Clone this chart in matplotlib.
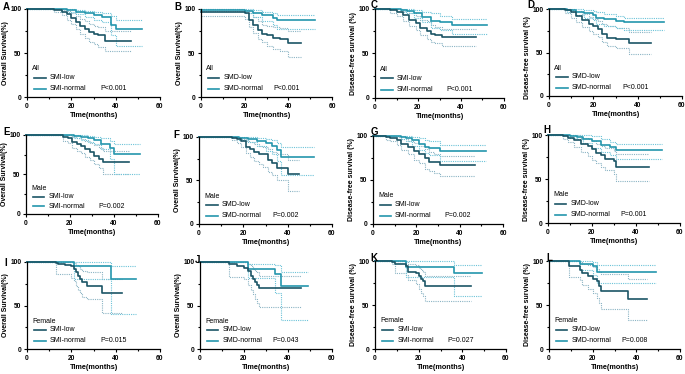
import matplotlib
matplotlib.use("Agg")
import matplotlib.pyplot as plt
from matplotlib.ticker import MultipleLocator

plt.rcParams['font.family'] = ['Liberation Sans', 'DejaVu Sans']

# ---- data: step times (months) and survival (%) with 95% CI ----
# A  OS, SMI, all
A_low_t = [0, 12, 16, 18, 20, 22, 24, 26, 28, 30, 32, 35, 47]
A_low_s = [100, 99, 97, 94, 90, 85, 81, 77, 74, 72, 70, 64, 64]
A_low_lo = [100, 97, 93, 88, 83, 77, 72, 67, 63, 60, 57, 52, 52]
A_low_hi = [100, 100, 99, 98, 96, 92, 89, 86, 83, 81, 79, 75, 75]
A_norm_t = [0, 18, 22, 26, 30, 34, 38, 40, 52]
A_norm_s = [100, 99, 97, 95, 93, 91, 82, 77, 77]
A_norm_lo = [100, 97, 94, 91, 88, 85, 70, 58, 58]
A_norm_hi = [100, 100, 99, 98, 97, 96, 92, 88, 88]

# B  OS, SMD, all
B_low_t = [0, 20, 22, 24, 26, 28, 30, 33, 36, 40, 46]
B_low_s = [97, 95, 88, 82, 76, 72, 70, 67, 66, 61, 61]
B_low_lo = [92, 89, 80, 73, 66, 62, 58, 54, 52, 45, 45]
B_low_hi = [100, 99, 95, 91, 86, 82, 81, 79, 78, 75, 75]
B_norm_t = [0, 20, 24, 28, 33, 35, 52]
B_norm_s = [99, 98, 96, 93, 90, 87, 87]
B_norm_lo = [98, 95, 91, 86, 82, 77, 77]
B_norm_hi = [100, 100, 99, 97, 95, 93, 93]

# C  DFS, SMI, all
C_low_t = [0, 7, 10, 13, 16, 19, 21, 24, 26, 28, 31, 47]
C_low_s = [100, 99, 97, 93, 88, 84, 79, 75, 72, 71, 68, 68]
C_low_lo = [100, 95, 92, 87, 81, 76, 71, 66, 63, 62, 58, 58]
C_low_hi = [100, 100, 100, 98, 95, 92, 88, 86, 82, 80, 78, 78]
C_norm_t = [0, 12, 15, 18, 22, 26, 30, 36, 52]
C_norm_s = [100, 99, 98, 95, 91, 87, 85, 82, 82]
C_norm_lo = [100, 97, 95, 90, 85, 79, 76, 72, 72]
C_norm_hi = [100, 100, 100, 99, 97, 95, 92, 89, 89]

# D  DFS, SMD, all
D_low_t = [0, 7, 10, 12, 15, 18, 20, 22, 24, 26, 30, 36, 46]
D_low_s = [100, 99, 96, 92, 87, 83, 80, 77, 71, 67, 65, 61, 61]
D_low_lo = [100, 95, 90, 85, 79, 75, 71, 68, 62, 58, 55, 48, 48]
D_low_hi = [100, 100, 99, 98, 94, 91, 88, 86, 83, 80, 78, 73, 73]
D_norm_t = [0, 8, 12, 16, 20, 21, 25, 30, 34, 52]
D_norm_s = [100, 99, 97, 95, 93, 90, 88, 86, 85, 85]
D_norm_lo = [100, 97, 93, 90, 87, 83, 80, 78, 76, 76]
D_norm_hi = [100, 100, 100, 99, 98, 96, 94, 92, 90, 90]

# E  OS, SMI, male
E_low_t = [0, 17, 19, 21, 23, 25, 27, 29, 31, 33, 35, 47]
E_low_s = [100, 98, 96, 91, 88, 86, 82, 78, 74, 70, 66, 66]
E_low_lo = [100, 93, 90, 84, 80, 77, 72, 68, 63, 58, 50, 50]
E_low_hi = [100, 100, 100, 98, 96, 95, 92, 90, 87, 84, 80, 80]
E_norm_t = [0, 22, 25, 28, 31, 34, 38, 40, 52]
E_norm_s = [100, 99, 98, 96, 94, 89, 83, 76, 76]
E_norm_lo = [100, 96, 94, 91, 88, 82, 70, 51, 51]
E_norm_hi = [100, 100, 100, 99, 98, 96, 92, 88, 88]

# F  OS, SMD, male
F_low_t = [0, 15, 17, 19, 21, 23, 25, 27, 29, 31, 33, 35, 40, 45]
F_low_s = [100, 99, 98, 95, 89, 86, 83, 81, 80, 74, 70, 64, 57, 57]
F_low_lo = [100, 96, 93, 89, 82, 77, 72, 69, 66, 60, 56, 50, 38, 38]
F_low_hi = [100, 100, 100, 98, 95, 94, 92, 90, 89, 86, 83, 80, 73, 73]
F_norm_t = [0, 18, 22, 26, 30, 33, 35, 37, 52]
F_norm_s = [100, 99, 98, 95, 93, 90, 85, 77, 77]
F_norm_lo = [100, 96, 94, 90, 84, 80, 72, 56, 56]
F_norm_hi = [100, 100, 100, 99, 98, 96, 93, 89, 89]

# G  DFS, SMI, male
G_low_t = [0, 6, 8, 11, 13, 16, 19, 21, 24, 26, 28, 31, 47]
G_low_s = [100, 99, 98, 95, 91, 87, 83, 79, 75, 71, 70, 67, 67]
G_low_lo = [100, 96, 94, 90, 84, 79, 73, 69, 63, 60, 58, 54, 54]
G_low_hi = [100, 100, 100, 99, 97, 94, 92, 89, 85, 82, 80, 77, 77]
G_norm_t = [0, 13, 15, 18, 21, 24, 26, 31, 52]
G_norm_s = [100, 99, 98, 95, 91, 88, 86, 83, 83]
G_norm_lo = [100, 97, 94, 89, 84, 81, 78, 72, 72]
G_norm_hi = [100, 100, 100, 99, 98, 96, 94, 90, 90]

# H  DFS, SMD, male
H_low_t = [0, 7, 9, 12, 15, 18, 20, 22, 24, 26, 30, 31, 46]
H_low_s = [100, 99, 97, 94, 90, 87, 84, 80, 77, 73, 70, 64, 64]
H_low_lo = [100, 95, 92, 86, 81, 76, 72, 68, 64, 60, 56, 48, 48]
H_low_hi = [100, 100, 100, 100, 97, 95, 93, 90, 88, 85, 82, 78, 78]
H_norm_t = [0, 10, 13, 16, 20, 24, 28, 31, 52]
H_norm_s = [100, 99, 98, 96, 93, 89, 86, 83, 83]
H_norm_lo = [100, 97, 95, 91, 85, 81, 77, 73, 73]
H_norm_hi = [100, 100, 100, 100, 99, 96, 92, 90, 90]

# I  OS, SMI, female
I_low_t = [0, 13, 14, 17, 20, 21, 22, 23, 24, 25, 27, 34, 43]
I_low_s = [100, 99, 98, 97, 95, 92, 88, 84, 80, 77, 72, 64, 64]
I_low_lo = [100, 86, 86, 86, 82, 78, 72, 68, 64, 60, 58, 41, 41]
I_low_hi = [100, 100, 100, 100, 100, 99, 97, 95, 92, 90, 88, 80, 80]
I_norm_t = [0, 21, 38, 49]
I_norm_s = [100, 95, 81, 81]
I_norm_lo = [100, 80, 40, 40]
I_norm_hi = [100, 100, 95, 95]

# J  OS, SMD, female
J_low_t = [0, 13, 17, 20, 22, 23, 24, 25, 26, 27, 46]
J_low_s = [100, 98, 95, 93, 90, 84, 80, 77, 74, 70, 70]
J_low_lo = [100, 83, 83, 80, 74, 68, 63, 58, 53, 48, 48]
J_low_hi = [100, 100, 100, 100, 98, 95, 92, 90, 88, 84, 84]
J_norm_t = [0, 22, 34, 37, 49]
J_norm_s = [100, 92, 86, 72, 72]
J_norm_lo = [100, 82, 64, 33, 33]
J_norm_hi = [100, 98, 97, 89, 89]

# K  DFS, SMI, female
K_low_t = [0, 8, 9, 14, 15, 19, 20, 21, 22, 23, 44]
K_low_s = [100, 99, 97, 94, 88, 86, 83, 80, 77, 72, 72]
K_low_lo = [100, 97, 86, 84, 78, 74, 68, 64, 60, 55, 55]
K_low_hi = [100, 100, 100, 99, 97, 95, 92, 90, 88, 83, 83]
K_norm_t = [0, 14, 36, 49]
K_norm_s = [100, 93, 86, 86]
K_norm_lo = [100, 82, 60, 60]
K_norm_hi = [100, 100, 95, 95]

# L  DFS, SMD, female
L_low_t = [0, 9, 14, 15, 18, 20, 22, 23, 24, 36, 45]
L_low_s = [100, 94, 90, 86, 83, 80, 77, 72, 66, 57, 57]
L_low_lo = [100, 82, 78, 73, 68, 64, 58, 52, 46, 33, 33]
L_low_hi = [100, 100, 99, 97, 95, 93, 91, 88, 85, 80, 80]
L_norm_t = [0, 14, 20, 22, 49]
L_norm_s = [100, 97, 94, 88, 88]
L_norm_lo = [100, 90, 84, 75, 75]
L_norm_hi = [100, 100, 99, 95, 95]

letters = ['A', 'B', 'C', 'D', 'E', 'F', 'G', 'H', 'I', 'J', 'K', 'L']
markers = ['SMI', 'SMD', 'SMI', 'SMD'] * 3
groups = ['All'] * 4 + ['Male'] * 4 + ['Female'] * 4
pvals = ['P<0.001', 'P<0.001', 'P<0.001', 'P<0.001',
         'P=0.002', 'P=0.002', 'P=0.002', 'P=0.001',
         'P=0.015', 'P=0.043', 'P=0.027', 'P=0.008']
ylabels = ['Overall Survival(%)', 'Overall Survival(%)',
           'Disease-free survival (%)', 'Disease-free survival (%)'] * 3

curves = [
    (A_low_t, A_low_s, A_low_lo, A_low_hi, A_norm_t, A_norm_s, A_norm_lo, A_norm_hi),
    (B_low_t, B_low_s, B_low_lo, B_low_hi, B_norm_t, B_norm_s, B_norm_lo, B_norm_hi),
    (C_low_t, C_low_s, C_low_lo, C_low_hi, C_norm_t, C_norm_s, C_norm_lo, C_norm_hi),
    (D_low_t, D_low_s, D_low_lo, D_low_hi, D_norm_t, D_norm_s, D_norm_lo, D_norm_hi),
    (E_low_t, E_low_s, E_low_lo, E_low_hi, E_norm_t, E_norm_s, E_norm_lo, E_norm_hi),
    (F_low_t, F_low_s, F_low_lo, F_low_hi, F_norm_t, F_norm_s, F_norm_lo, F_norm_hi),
    (G_low_t, G_low_s, G_low_lo, G_low_hi, G_norm_t, G_norm_s, G_norm_lo, G_norm_hi),
    (H_low_t, H_low_s, H_low_lo, H_low_hi, H_norm_t, H_norm_s, H_norm_lo, H_norm_hi),
    (I_low_t, I_low_s, I_low_lo, I_low_hi, I_norm_t, I_norm_s, I_norm_lo, I_norm_hi),
    (J_low_t, J_low_s, J_low_lo, J_low_hi, J_norm_t, J_norm_s, J_norm_lo, J_norm_hi),
    (K_low_t, K_low_s, K_low_lo, K_low_hi, K_norm_t, K_norm_s, K_norm_lo, K_norm_hi),
    (L_low_t, L_low_s, L_low_lo, L_low_hi, L_norm_t, L_norm_s, L_norm_lo, L_norm_hi),
]

# axes boxes in pixels: left, right, top, bottom
boxes = [(27, 160, 9, 97), (201, 332, 9, 97), (375, 504, 9, 98), (549, 682, 9, 96),
         (26, 158, 135, 214), (199, 332, 137, 224), (373, 503, 136, 224), (548, 680, 135, 223),
         (27, 160, 262, 349), (200, 332, 262, 349), (375, 506, 261, 349), (549, 680, 261, 349)]

c_low = '#1b5566'
c_norm = '#2496ad'
c_ci_low = '#8bb4c4'
c_ci_norm = '#6cc3d8'

W, H = 685, 374
fig = plt.figure(figsize=(W / 100, H / 100), dpi=100)

for i, (l, r, t, b) in enumerate(boxes):
    ax = fig.add_axes([l / W, 1 - b / H, (r - l) / W, (b - t) / H])
    lt, ls, llo, lhi, nt, ns, nlo, nhi = curves[i]
    for y in (llo, lhi):
        ax.step(lt, y, where='post', color=c_ci_low, lw=0.8, ls=(0, (1, 1)), clip_on=False)
    for y in (nlo, nhi):
        ax.step(nt, y, where='post', color=c_ci_norm, lw=0.8, ls=(0, (1, 1)), clip_on=False)
    ax.step(nt, ns, where='post', color=c_norm, lw=1.2, clip_on=False,
            label=markers[i] + '-normal')
    ax.step(lt, ls, where='post', color=c_low, lw=1.2, clip_on=False,
            label=markers[i] + '-low')

    ax.set_xlim(0, 60)
    ax.set_ylim(0, 100)
    ax.xaxis.set_major_locator(MultipleLocator(20))
    ax.xaxis.set_minor_locator(MultipleLocator(10))
    ax.yaxis.set_major_locator(MultipleLocator(50))
    ax.yaxis.set_minor_locator(MultipleLocator(25))
    for s in ('top', 'right'):
        ax.spines[s].set_visible(False)
    for s in ('left', 'bottom'):
        ax.spines[s].set_linewidth(0.9)
    ax.tick_params(which='major', length=2.5, width=0.8, labelsize=4.8, pad=1.5)
    ax.tick_params(which='minor', length=1.5, width=0.8)
    for lab in ax.get_xticklabels() + ax.get_yticklabels():
        lab.set_fontweight('bold')
    ax.set_xlabel('Time(months)', fontsize=5.2, fontweight='bold', labelpad=2)
    ax.set_ylabel(ylabels[i], fontsize=5.0, fontweight='bold', labelpad=1)
    if letters[i] == 'D':
        ax.yaxis.label.set_y(0.44)

    # legend
    ax.text(0.04, 0.32, groups[i], transform=ax.transAxes, fontsize=5, va='center')
    ax.plot([0.05, 0.14], [0.22, 0.22], transform=ax.transAxes, color=c_low, lw=1.2)
    ax.plot([0.05, 0.14], [0.095, 0.095], transform=ax.transAxes, color=c_norm, lw=1.2)
    ax.text(0.17, 0.22, markers[i] + '-low', transform=ax.transAxes, fontsize=5, va='center')
    ax.text(0.17, 0.095, markers[i] + '-normal', transform=ax.transAxes, fontsize=5, va='center')
    ax.text(0.55, 0.095, pvals[i], transform=ax.transAxes, fontsize=5, va='center')

letter_pos = [(3, 7), (174, 7), (371, 5), (527, 5),
              (3, 132), (173, 135), (371, 132), (543, 130),
              (4, 263), (195, 260), (370, 258), (546, 258)]
for k, (x, y) in enumerate(letter_pos):
    fig.text(x / W, 1 - y / H, letters[k], fontsize=7, fontweight='bold', va='center')

fig.savefig('out.png', dpi=100)
